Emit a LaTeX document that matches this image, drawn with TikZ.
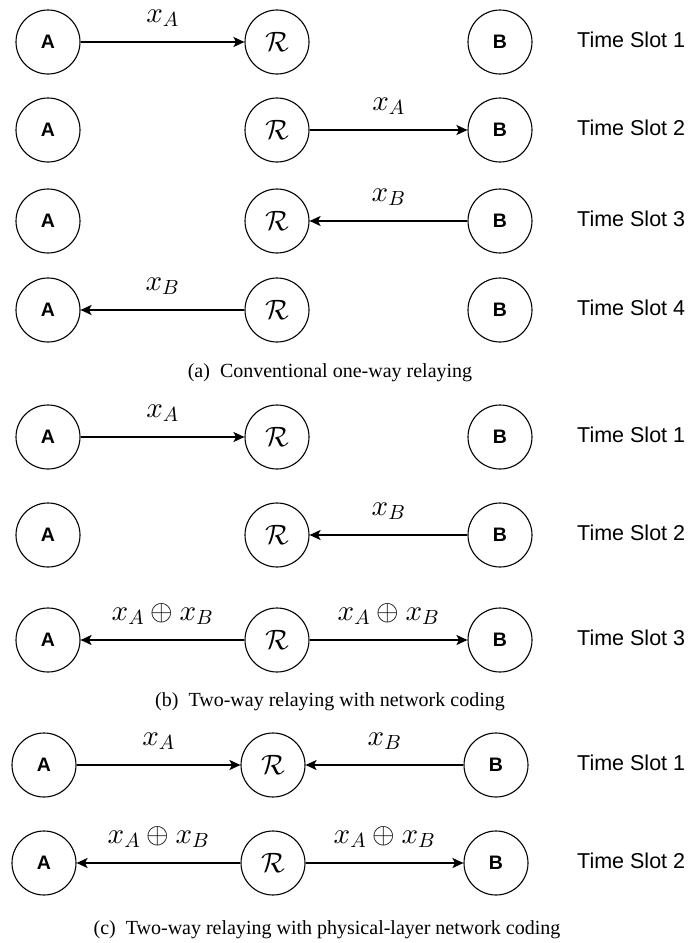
\documentclass[tikz,border=0pt]{standalone}
\usepackage[no-math]{fontspec}
\setmainfont{Liberation Serif}
\setsansfont{Liberation Sans}
\DeclareFontShape{OML}{cmm}{m}{it}{<->cmmi10}{}
\DeclareFontShape{OMS}{cmsy}{m}{n}{<->cmsy10}{}
\DeclareFontShape{OMX}{cmex}{m}{n}{<->cmex10}{}
\DeclareFontShape{OT1}{cmr}{m}{n}{<->cmr10}{}
\DeclareMathSizes{28}{28}{20}{14}
\DeclareMathSizes{29}{29}{20.5}{14.5}
\usetikzlibrary{arrows.meta}
\begin{document}
\begin{tikzpicture}[x=1pt,y=-1pt,
 nd/.style={circle, draw, line width=1.1pt, minimum size=64pt, inner sep=0pt, font=\sffamily\bfseries\fontsize{19.5}{22}\selectfont},
 rn/.style={circle, draw, line width=1.1pt, minimum size=64pt, inner sep=0pt, font=\fontsize{28}{32}\selectfont},
 link/.style={line width=1.8pt, -{Stealth[length=11pt,width=10pt,inset=2.5pt]}},
 lbl/.style={anchor=base, yshift=20pt, inner sep=0pt, font=\fontsize{29}{33}\selectfont},
 slot/.style={anchor=west, inner sep=0pt, font=\sffamily\fontsize{21.5}{24}\selectfont},
 captxt/.style={inner sep=0pt, font=\fontsize{20}{24}\selectfont}]
\useasboundingbox (0,0) rectangle (694,943);
% (a)
\node[nd] (a1) at (48,42) {A};
\node[rn] (r1) at (277,42) {$\mathcal{R}$};
\node[nd] (b1) at (500,42) {B};
\node[slot] (s1) at (577,40) {Time Slot 1};
\draw[link] (a1) -- (r1) node[midway,lbl] {$x_A$};

\node[nd] (a2) at (48,130) {A};
\node[rn] (r2) at (277,130) {$\mathcal{R}$};
\node[nd] (b2) at (500,130) {B};
\node[slot] (s2) at (577,128) {Time Slot 2};
\draw[link] (r2) -- (b2) node[midway,lbl] {$x_A$};

\node[nd] (a3) at (48,221) {A};
\node[rn] (r3) at (277,221) {$\mathcal{R}$};
\node[nd] (b3) at (500,221) {B};
\node[slot] (s3) at (577,219) {Time Slot 3};
\draw[link] (b3) -- (r3) node[midway,lbl] {$x_B$};

\node[nd] (a4) at (48,310) {A};
\node[rn] (r4) at (277,310) {$\mathcal{R}$};
\node[nd] (b4) at (500,310) {B};
\node[slot] (s4) at (577,308) {Time Slot 4};
\draw[link] (r4) -- (a4) node[midway,lbl] {$x_B$};

\node[captxt] (capa) at (330,373) {(a)\enspace Conventional one-way relaying};

% (b)
\node[nd] (a5) at (48,437) {A};
\node[rn] (r5) at (277,437) {$\mathcal{R}$};
\node[nd] (b5) at (500,437) {B};
\node[slot] (s5) at (577,435) {Time Slot 1};
\draw[link] (a5) -- (r5) node[midway,lbl] {$x_A$};

\node[nd] (a6) at (48,535) {A};
\node[rn] (r6) at (277,535) {$\mathcal{R}$};
\node[nd] (b6) at (500,535) {B};
\node[slot] (s6) at (577,533) {Time Slot 2};
\draw[link] (b6) -- (r6) node[midway,lbl] {$x_B$};

\node[nd] (a7) at (48,640) {A};
\node[rn] (r7) at (277,640) {$\mathcal{R}$};
\node[nd] (b7) at (500,640) {B};
\node[slot] (s7) at (577,638) {Time Slot 3};
\draw[link] (r7) -- (a7) node[midway,lbl] {$x_A\oplus x_B$};
\draw[link] (r7) -- (b7) node[midway,lbl] {$x_A\oplus x_B$};

\node[captxt] (capb) at (330,702) {(b)\enspace Two-way relaying with network coding};

% (c)
\node[nd] (a8) at (44,765) {A};
\node[rn] (r8) at (273,765) {$\mathcal{R}$};
\node[nd] (b8) at (496,765) {B};
\node[slot] (s8) at (577,763) {Time Slot 1};
\draw[link] (a8) -- (r8) node[midway,lbl] {$x_A$};
\draw[link] (b8) -- (r8) node[midway,lbl] {$x_B$};

\node[nd] (a9) at (44,863) {A};
\node[rn] (r9) at (273,863) {$\mathcal{R}$};
\node[nd] (b9) at (496,863) {B};
\node[slot] (s9) at (577,861) {Time Slot 2};
\draw[link] (r9) -- (a9) node[midway,lbl] {$x_A\oplus x_B$};
\draw[link] (r9) -- (b9) node[midway,lbl] {$x_A\oplus x_B$};

\node[captxt] (capc) at (327,930) {(c)\enspace Two-way relaying with physical-layer network coding};
\end{tikzpicture}
\end{document}
